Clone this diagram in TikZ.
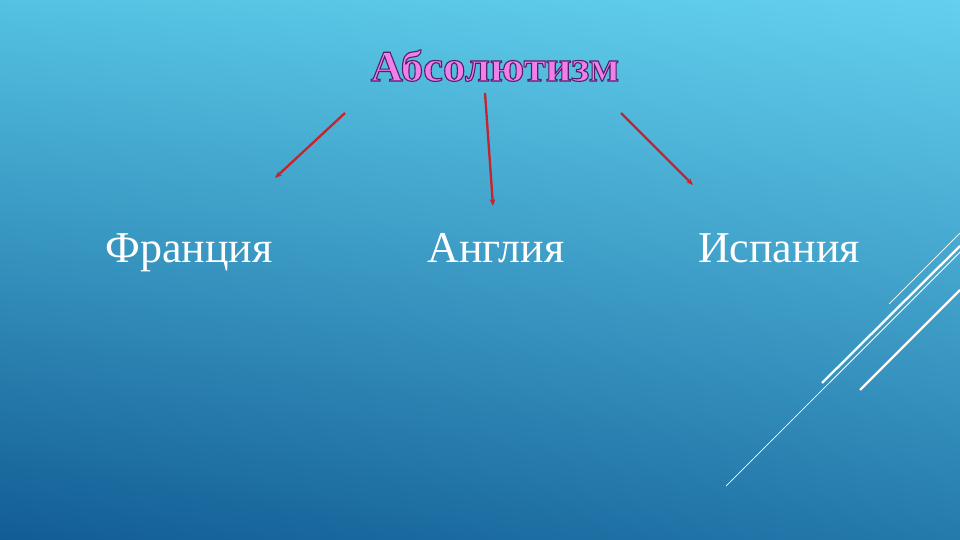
\documentclass[tikz,border=0pt]{standalone}
\usepackage{fontspec}
\setmainfont{Liberation Serif}
\newfontfamily\bodyfont{Liberation Serif}
\newfontfamily\titlefont[FakeStretch=1.03]{Liberation Serif}
\usetikzlibrary{arrows.meta,shadings}
\definecolor{bgTL}{RGB}{84,194,226}
\definecolor{bgTR}{RGB}{100,208,238}
\definecolor{bgBL}{RGB}{18,92,148}
\definecolor{bgBR}{RGB}{36,122,172}
\definecolor{titlepink}{RGB}{240,128,232}
\definecolor{arrowred}{RGB}{200,34,44}
\newcommand\outlined[1]{\special{pdf:literal direct 2 Tr 1.1 w 0.33 0.12 0.42 RG}#1\special{pdf:literal direct 0 Tr}}
\tikzset{
  titletext/.style={font=\titlefont\bfseries\fontsize{43.5}{46}\selectfont, text=titlepink, inner sep=0pt},
  bodytext/.style={font=\bodyfont\fontsize{44}{46}\selectfont, text=white, inner sep=0pt},
  redarrow/.style={draw=arrowred, line width=2.3pt, -{Stealth[length=7pt,width=5.5pt]}},
  decothin/.style={draw=white, line width=0.7pt},
  decothick/.style={draw=white, line width=2.3pt}
}
\begin{document}
\begin{tikzpicture}[x=1pt,y=-1pt]
\useasboundingbox (0,0) rectangle (960,540);
\shade[upper left=bgTL, upper right=bgTR, lower left=bgBL, lower right=bgBR] (0,0) rectangle (960,540);

\node[titletext, anchor=base] (abs) at (495,81) {\outlined{Абсолютизм}};
\node[bodytext, anchor=base] (fr) at (189,262) {Франция};
\node[bodytext, anchor=base] (an) at (496,262) {Англия};
\node[bodytext, anchor=base] (sp) at (779,262) {Испания};

\coordinate (a1s) at (345,113);
\coordinate (a1e) at (275,178);
\coordinate (a2s) at (485,93);
\coordinate (a2e) at (493,206);
\coordinate (a3s) at (621,113);
\coordinate (a3e) at (693,185);
\draw[redarrow] (a1s) -- (a1e);
\draw[redarrow] (a2s) -- (a2e);
\draw[redarrow] (a3s) -- (a3e);

% decorative lines
\coordinate (d1s) at (726,486); \coordinate (d1e) at (960,252);
\coordinate (d2s) at (822,383); \coordinate (d2e) at (960,246);
\coordinate (d3s) at (889,304); \coordinate (d3e) at (960,233);
\coordinate (d4s) at (860,390); \coordinate (d4e) at (960,290);
\coordinate (d5s) at (830,382); \coordinate (d5e) at (960,252);
\draw[decothin] (d1s) -- (d1e);
\draw[decothick] (d2s) -- (d2e);
\draw[decothin] (d3s) -- (d3e);
\draw[decothick] (d4s) -- (d4e);
\draw[decothin] (d5s) -- (d5e);
\end{tikzpicture}
\end{document}
